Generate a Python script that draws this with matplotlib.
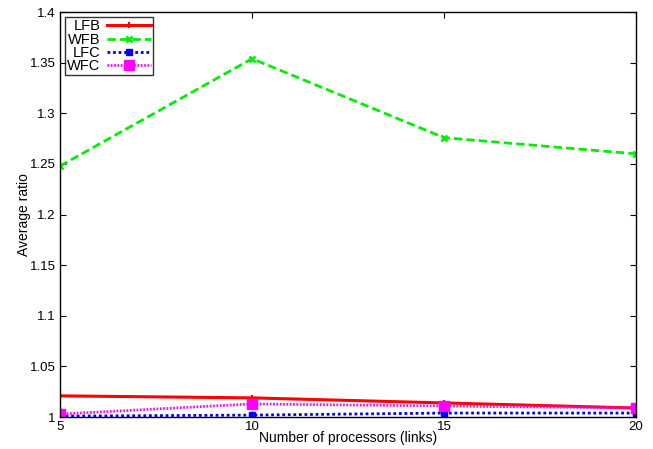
import matplotlib
matplotlib.use("Agg")
import matplotlib.pyplot as plt

# Data
processors = [5, 10, 15, 20]
lfb = [1.021, 1.019, 1.014, 1.009]
wfb = [1.248, 1.354, 1.276, 1.260]
lfc = [1.001, 1.002, 1.004, 1.004]
wfc = [1.003, 1.013, 1.011, 1.009]

yticks = [1, 1.05, 1.1, 1.15, 1.2, 1.25, 1.3, 1.35, 1.4]
ytick_labels = ["1", "1.05", "1.1", "1.15", "1.2", "1.25", "1.3", "1.35", "1.4"]

plt.rcParams["font.family"] = ["Liberation Sans", "DejaVu Sans"]

fig = plt.figure(figsize=(6.53, 4.49), dpi=100)
ax = fig.add_axes([0.092, 0.071, 0.882, 0.902])

ax.plot(processors, lfb, color="#ff0000", linewidth=2.2, linestyle="-",
        marker="+", markersize=5, markeredgewidth=1.5, label="LFB")
ax.plot(processors, wfb, color="#00ee00", linewidth=2.0, linestyle=(0, (3, 1.5)),
        marker="x", markersize=5, markeredgewidth=1.8, label="WFB")
ax.plot(processors, lfc, color="#0000ff", linewidth=2.0, linestyle=(0, (1, 1)),
        marker="s", markersize=5, label="LFC")
ax.plot(processors, wfc, color="#ff00ff", linewidth=2.0, linestyle=(0, (0.6, 0.6)),
        marker="s", markersize=7, label="WFC")

ax.set_xlim(5, 20)
ax.set_ylim(1, 1.4)
ax.set_xticks(processors)
ax.set_yticks(yticks)
ax.set_yticklabels(ytick_labels)
ax.tick_params(direction="in", top=True, right=True, labelsize=9.5, length=4, pad=3)
for s in ax.spines.values():
    s.set_linewidth(1.0)

ax.set_xlabel("Number of processors (links)", fontsize=10, labelpad=-2)
ax.set_ylabel("Average ratio", fontsize=10, labelpad=-1)

leg = ax.legend(loc="upper left", markerfirst=False, fontsize=10.5, frameon=True,
                fancybox=False, edgecolor="black", borderpad=0.15, labelspacing=-0.05,
                handlelength=3.0, handletextpad=0.45, borderaxespad=0.35)
leg.get_frame().set_linewidth(1.0)

fig.savefig("out.png", dpi=100)
